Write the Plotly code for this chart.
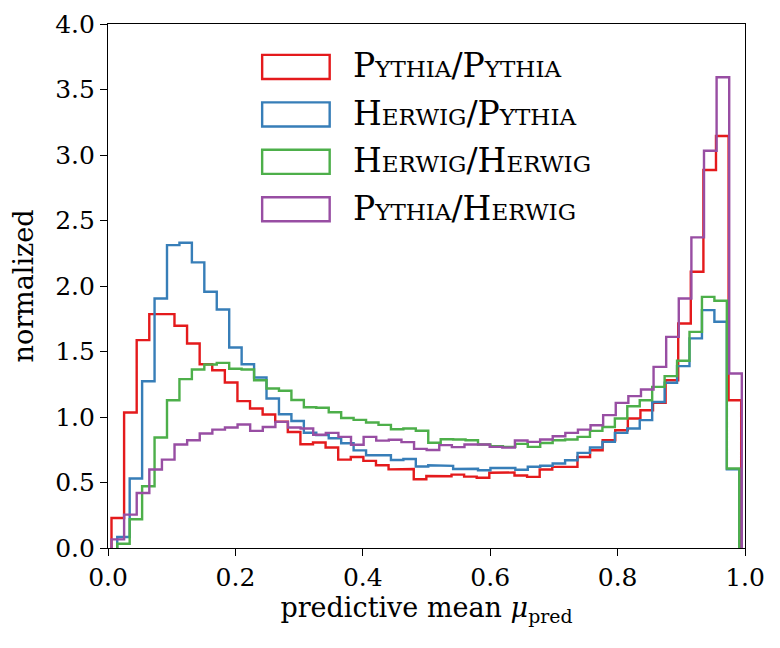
import numpy as np
import plotly.graph_objects as go

# normalized bin heights, 50 bins each
pythia_pythia = [0.229, 1.034, 1.587, 1.785, 1.785, 1.696, 1.561, 1.403, 1.357, 1.263,
                 1.121, 1.065, 1.019, 0.965, 0.885, 0.792, 0.805, 0.767, 0.675, 0.695,
                 0.665, 0.632, 0.600, 0.603, 0.525, 0.550, 0.548, 0.560, 0.545, 0.536,
                 0.575, 0.576, 0.554, 0.543, 0.599, 0.619, 0.619, 0.695, 0.746, 0.823,
                 0.899, 0.988, 1.052, 1.108, 1.281, 1.714, 2.109, 2.885, 3.145, 1.128]
herwig_pythia = [0.084, 0.530, 1.273, 1.905, 2.312, 2.330, 2.180, 1.956, 1.821, 1.531,
                 1.403, 1.302, 1.141, 1.021, 0.970, 0.880, 0.862, 0.838, 0.800, 0.745,
                 0.708, 0.708, 0.672, 0.679, 0.622, 0.631, 0.627, 0.603, 0.605, 0.594,
                 0.611, 0.611, 0.597, 0.620, 0.628, 0.645, 0.670, 0.726, 0.767, 0.810,
                 0.879, 0.912, 0.976, 1.115, 1.261, 1.388, 1.600, 1.816, 1.727, 0.600]
herwig_herwig = [0.033, 0.219, 0.471, 0.843, 1.128, 1.289, 1.363, 1.401, 1.413, 1.368,
                 1.363, 1.281, 1.218, 1.200, 1.130, 1.075, 1.071, 1.036, 0.992, 0.978,
                 0.958, 0.940, 0.907, 0.912, 0.895, 0.804, 0.830, 0.828, 0.823, 0.790,
                 0.778, 0.772, 0.795, 0.772, 0.802, 0.823, 0.828, 0.848, 0.894, 0.924,
                 0.988, 1.082, 1.128, 1.230, 1.312, 1.429, 1.650, 1.917, 1.887, 0.607]
pythia_herwig = [0.066, 0.255, 0.420, 0.599, 0.675, 0.790, 0.823, 0.874, 0.904, 0.920,
                 0.943, 0.894, 0.924, 0.963, 0.920, 0.912, 0.864, 0.879, 0.848, 0.788,
                 0.848, 0.820, 0.826, 0.808, 0.757, 0.748, 0.785, 0.770, 0.790, 0.790,
                 0.772, 0.766, 0.821, 0.810, 0.828, 0.853, 0.879, 0.904, 0.937, 1.014,
                 1.108, 1.159, 1.210, 1.383, 1.612, 1.905, 2.371, 3.033, 3.594, 1.332]

# histogram range (min/max of each sample)
ranges = [(0.0055, 0.994), (0.0145, 0.991), (0.0145, 0.991), (0.0055, 0.995)]
labels = ["Pythia/Pythia", "Herwig/Pythia", "Herwig/Herwig", "Pythia/Herwig"]
colors = ["#e41a1c", "#377eb8", "#4daf4a", "#984ea3"]
series = [pythia_pythia, herwig_pythia, herwig_herwig, pythia_herwig]

x_ticks = [0.0, 0.2, 0.4, 0.6, 0.8, 1.0]
y_ticks = [0.0, 0.5, 1.0, 1.5, 2.0, 2.5, 3.0, 3.5, 4.0]

FONT = "DejaVu Serif"


def step_outline(values, lo, hi):
    # outline like matplotlib histtype="step"
    edges = np.linspace(lo, hi, len(values) + 1)
    xs, ys = [edges[0]], [0.0]
    for i, v in enumerate(values):
        xs += [edges[i], edges[i + 1]]
        ys += [v, v]
    xs.append(edges[-1])
    ys.append(0.0)
    return xs, ys


fig = go.Figure()
for vals, (lo, hi), name, col in zip(series, ranges, labels, colors):
    xs, ys = step_outline(vals, lo, hi)
    fig.add_trace(go.Scatter(x=xs, y=ys, mode="lines", name=name,
                             line=dict(color=col, width=2.4), showlegend=False))

# legend drawn by hand: outlined patches + small-caps labels
row_top = 0.941
row_gap = 0.0905
for i, (name, col) in enumerate(zip(labels, colors)):
    top = row_top - i * row_gap
    fig.add_shape(type="rect", xref="paper", yref="paper",
                  x0=0.242, x1=0.348, y0=top - 0.046, y1=top,
                  line=dict(color=col, width=2.4), fillcolor="rgba(0,0,0,0)")
    fig.add_annotation(xref="paper", yref="paper", x=0.381, y=top - 0.021,
                       xanchor="left", yanchor="middle", showarrow=False,
                       text=name,
                       font=dict(family=FONT, size=33, color="black", variant="small-caps"))

axis_style = dict(showline=True, linecolor="black", linewidth=1.2, mirror=True,
                  ticks="outside", ticklen=7, tickwidth=1.2, tickcolor="black",
                  showgrid=False, zeroline=False, automargin=False,
                  tickfont=dict(family=FONT, size=25, color="black"))

fig.update_xaxes(range=[0, 1], tickvals=x_ticks, tickformat=".1f",
                 title=dict(text="predictive mean <i>μ</i><sub>pred</sub>",
                            font=dict(family=FONT, size=27, color="black"), standoff=7),
                 **axis_style)
fig.update_yaxes(range=[0, 4], tickvals=y_ticks, tickformat=".1f",
                 title=dict(text="normalized",
                            font=dict(family=FONT, size=27, color="black"), standoff=18),
                 **axis_style)

# the page adds an 8px body margin, so the figure is a bit smaller than the window
fig.update_layout(width=772, height=640,
                  margin=dict(l=99.5, r=35.2, t=16.2, b=100.3),
                  plot_bgcolor="white", paper_bgcolor="white",
                  font=dict(family=FONT, color="black"))

fig.write_html("out.html")
